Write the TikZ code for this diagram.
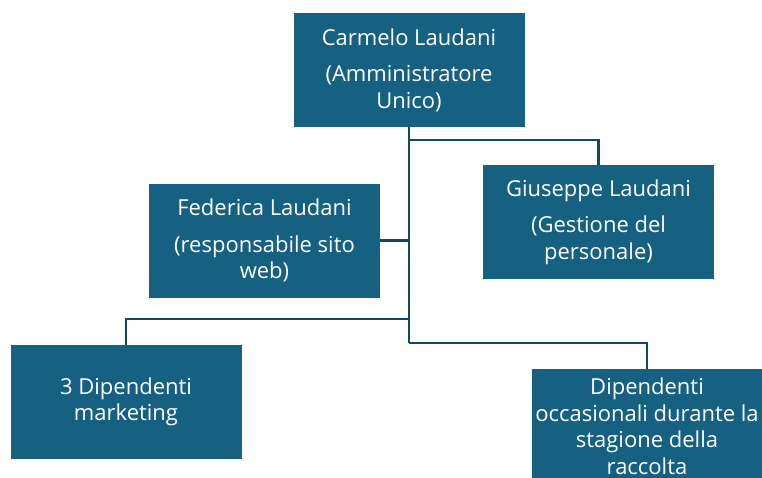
\documentclass[tikz,border=0pt]{standalone}
\usepackage{fontspec}
\setmainfont{Open Sans}
\definecolor{boxblue}{HTML}{166082}
\definecolor{linkblue}{HTML}{124A63}
\tikzset{
   persona/.style={fill=boxblue,text=white,minimum width=231pt,minimum height=114pt,
      inner sep=0pt,align=center,font=\fontsize{22}{26.5}\selectfont},
   ramo/.style={color=linkblue,line width=2.5pt}
}
\begin{document}
\begin{tikzpicture}[x=1pt,y=-1pt]
   \useasboundingbox (0,0) rectangle (762,477);

   \node[persona] (carmelo) at (409,70) {Carmelo Laudani\\[10pt](Amministratore\\Unico)};
   \node[persona] (federica) at (264.5,240.5) {Federica Laudani\\[10pt](responsabile sito\\web)};
   \node[persona] (giuseppe) at (598.5,222) {Giuseppe Laudani\\[10pt](Gestione del\\personale)};
   \node[persona] (marketing) at (126,402) {3 Dipendenti\\marketing};
   \node[persona] (occasionali) at (647,426) {Dipendenti\\occasionali durante la\\stagione della\\raccolta};

   \coordinate (tronco) at (409,343);
   \draw[ramo] (carmelo.south) -- (tronco);
   \draw[ramo] (409,140) -| (giuseppe.north);
   \draw[ramo] (federica.east) -- (409,240.5);
   \draw[ramo] (409,319) -| (marketing.north);
   \draw[ramo] (tronco) -| (occasionali.north);
\end{tikzpicture}
\end{document}
